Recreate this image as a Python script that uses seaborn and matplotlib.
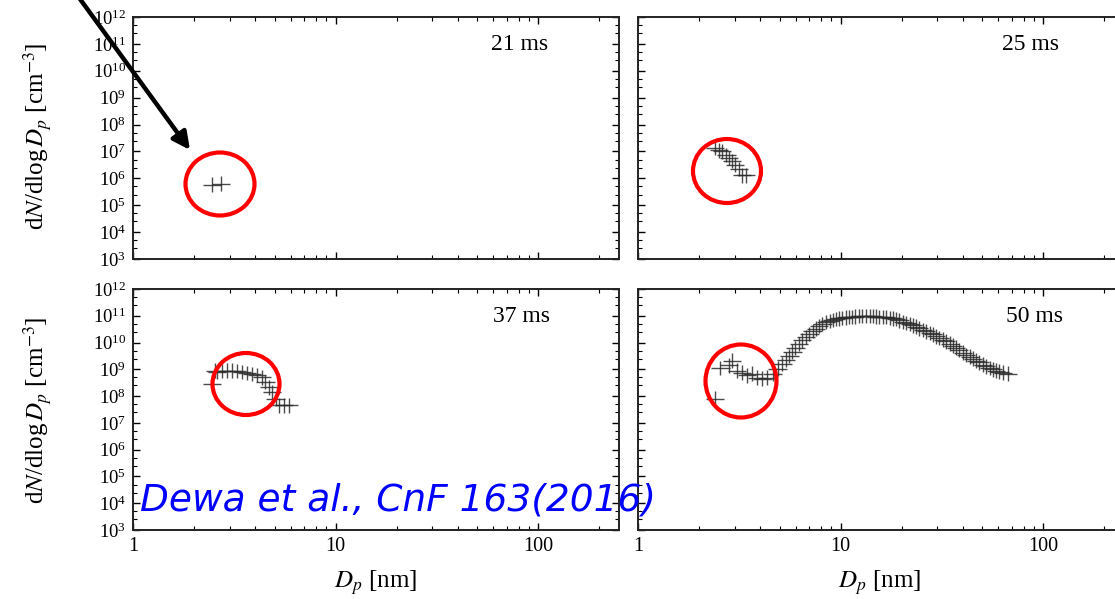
import numpy as np
import pandas as pd
import matplotlib
matplotlib.use('Agg')
import matplotlib.pyplot as plt
import matplotlib.ticker as mticker
from matplotlib.patches import Ellipse
import seaborn as sns

# particle size distributions (Dp in nm, dN/dlogDp in cm^-3)
dp_21 = [2.45, 2.72]
n_21 = [5.8e5, 6.3e5]

dp_25 = [2.40, 2.52, 2.60, 2.73, 2.82, 2.92, 3.02, 3.16, 3.27, 3.42]
n_25 = [1.35e7, 1.1e7, 1.0e7, 7.4e6, 5.8e6, 4.5e6, 3.2e6, 2.2e6, 1.3e6, 1.3e6]

dp_37 = [2.46, 2.55, 2.60, 2.75, 2.91, 3.08, 3.26, 3.45, 3.66, 3.87,
         4.10, 4.34, 4.50, 4.68, 4.86, 5.05, 5.24, 5.55, 5.87]
n_37 = [2.9e8, 9.0e8, 7.8e8, 8.5e8, 9.0e8, 9.0e8, 8.5e8, 7.8e8, 7.4e8, 6.8e8,
        6.2e8, 5.0e8, 3.3e8, 2.1e8, 1.4e8, 7.9e7, 4.5e7, 4.5e7, 4.5e7]

dp_50 = [2.40, 2.55, 2.82, 2.92, 3.09, 3.27, 3.46, 3.67, 3.88, 4.11,
         4.35, 4.61, 4.88, 5.16, 5.38, 5.59, 5.78, 5.98, 6.22, 6.47,
         6.74, 7.01, 7.27, 7.53, 7.83, 8.13, 8.47, 8.81, 9.12, 9.44,
         9.80, 10.2, 10.6, 11.0, 11.4, 11.8, 12.3, 12.8, 13.3, 13.9,
         14.4, 14.9, 15.5, 16.1, 16.8, 17.5, 18.1, 18.8, 19.5, 20.3,
         21.1, 21.9, 22.7, 23.5, 24.4, 25.4, 26.4, 27.5, 28.5, 29.5,
         30.7, 31.9, 33.2, 34.5, 35.7, 37.0, 38.5, 40.1, 41.7, 43.3,
         44.9, 46.5, 48.4, 50.3, 52.3, 54.3, 56.3, 58.4, 60.7, 63.1, 66.8]
n_50 = [8.0e7, 1.1e9, 1.4e9, 2.1e9, 9.0e8, 7.6e8, 5.9e8, 6.9e8, 4.9e8, 4.5e8,
        4.9e8, 6.9e8, 1.07e9, 1.6e9, 2.3e9, 3.2e9, 4.6e9, 6.4e9, 8.8e9, 1.2e10,
        1.6e10, 2.1e10, 2.7e10, 3.3e10, 4.1e10, 5.0e10, 5.8e10, 6.5e10, 7.1e10, 7.6e10,
        8.0e10, 8.3e10, 8.7e10, 9.1e10, 9.2e10, 9.3e10, 9.6e10, 9.8e10, 9.8e10, 9.8e10,
        9.6e10, 9.3e10, 9.2e10, 9.1e10, 8.8e10, 8.4e10, 8.0e10, 7.6e10, 6.7e10, 5.9e10,
        5.4e10, 5.0e10, 4.4e10, 3.9e10, 3.4e10, 3.0e10, 2.6e10, 2.3e10, 2.0e10, 1.7e10,
        1.5e10, 1.3e10, 1.1e10, 9.1e9, 7.7e9, 6.5e9, 5.2e9, 4.2e9, 3.5e9, 3.0e9,
        2.5e9, 2.1e9, 1.8e9, 1.5e9, 1.3e9, 1.1e9, 1.0e9, 9.0e8, 8.2e8, 7.6e8, 6.9e8]

times = ['21 ms', '25 ms', '37 ms', '50 ms']
frames = [
    pd.DataFrame({'dp': dp_21, 'n': n_21, 'time': '21 ms'}),
    pd.DataFrame({'dp': dp_25, 'n': n_25, 'time': '25 ms'}),
    pd.DataFrame({'dp': dp_37, 'n': n_37, 'time': '37 ms'}),
    pd.DataFrame({'dp': dp_50, 'n': n_50, 'time': '50 ms'}),
]
df = pd.concat(frames, ignore_index=True)

sns.set_theme(style='ticks')
plt.rcParams['font.family'] = ['Liberation Serif', 'DejaVu Serif']
plt.rcParams['mathtext.fontset'] = 'stix'
plt.rcParams['xtick.direction'] = 'in'
plt.rcParams['ytick.direction'] = 'in'
plt.rcParams['text.color'] = 'black'
plt.rcParams['xtick.labelcolor'] = 'black'
plt.rcParams['ytick.labelcolor'] = 'black'

W, H = 1115, 599
fig = plt.figure(figsize=(W / 100, H / 100), dpi=100)

# axes boxes in pixels: (left, top, right, bottom)
boxes = [(133, 17, 619, 259), (638, 17, 1124, 259),
         (133, 289, 619, 530), (638, 289, 1124, 530)]
label_x = [0.795, 0.807, 0.80, 0.815]

# half widths of the error crosses, in decades
dx_dec, dy_dec = 0.045, 0.27

axes = []
for i, (t, box) in enumerate(zip(times, boxes)):
    l, tp, r, b = box
    ax = fig.add_axes([l / W, 1 - b / H, (r - l) / W, (b - tp) / H])
    axes.append(ax)
    d = df[df['time'] == t]
    x = d['dp'].to_numpy()
    y = d['n'].to_numpy()
    xerr = [x * (1 - 10 ** -dx_dec), x * (10 ** dx_dec - 1)]
    yerr = [y * (1 - 10 ** -dy_dec), y * (10 ** dy_dec - 1)]
    ax.errorbar(x, y, xerr=xerr, yerr=yerr, fmt='none', ecolor='#2b2b2b',
                elinewidth=1.0, capsize=0, alpha=0.85)
    ax.set_xscale('log')
    ax.set_yscale('log')
    ax.set_xlim(1, 250)
    ax.set_ylim(1e3, 1e12)
    ax.yaxis.set_major_locator(mticker.LogLocator(base=10, numticks=20))
    ax.yaxis.set_minor_locator(mticker.LogLocator(base=10, subs=(2.5, 5.0), numticks=20))
    ax.xaxis.set_minor_locator(mticker.LogLocator(base=10, subs=np.arange(2, 10), numticks=20))
    ax.xaxis.set_major_formatter(mticker.FuncFormatter(lambda v, p: f'{v:g}'))
    ax.tick_params(which='both', top=True, right=True, colors='black',
                   labelsize=13.5, pad=5)
    ax.tick_params(axis='x', labelsize=14.5)
    ax.tick_params(which='major', length=5, width=1.0)
    ax.tick_params(which='minor', length=3, width=0.8)
    for s in ax.spines.values():
        s.set_color('#222222')
        s.set_linewidth(1.4)
    if i % 2 == 1:
        ax.tick_params(labelleft=False)
    if i < 2:
        ax.tick_params(labelbottom=False)
    ax.text(label_x[i], 0.885, t, transform=ax.transAxes, ha='center',
            va='center', fontsize=17)

ylab = r'd$N$/dlog$\,D_p$ [cm$^{-3}$]'
fig.text(38 / W, 1 - 136 / H, ylab, rotation=90, ha='center', va='center', fontsize=18)
fig.text(38 / W, 1 - 410 / H, ylab, rotation=90, ha='center', va='center', fontsize=18)
fig.text(376 / W, 1 - 583 / H, r'$D_p$ [nm]', ha='center', va='center', fontsize=18)
fig.text(880 / W, 1 - 583 / H, r'$D_p$ [nm]', ha='center', va='center', fontsize=18)

# red circles around the smallest particles
circles = [(220, 184, 69, 63), (727, 171, 68, 64), (246, 384, 67, 62), (741, 381, 71, 73)]
for cx, cy, w, h in circles:
    fig.add_artist(Ellipse((cx / W, 1 - cy / H), w / W, h / H, transform=fig.transFigure,
                           fill=False, edgecolor='#ff0000', linewidth=3.0))

axes[0].annotate('', xy=(190, H - 150), xycoords='figure pixels',
                 xytext=(72, H + 12), textcoords='figure pixels',
                 arrowprops=dict(arrowstyle='-|>', color='black', lw=3.2,
                                 mutation_scale=26, shrinkA=0, shrinkB=0),
                 annotation_clip=False)

fig.text(140 / W, 1 - 511 / H, 'Dewa et al., CnF 163(2016)', color='#0000ff',
         fontsize=27, style='italic', family='DejaVu Sans', ha='left', va='baseline')

fig.savefig('out.png', dpi=100)
